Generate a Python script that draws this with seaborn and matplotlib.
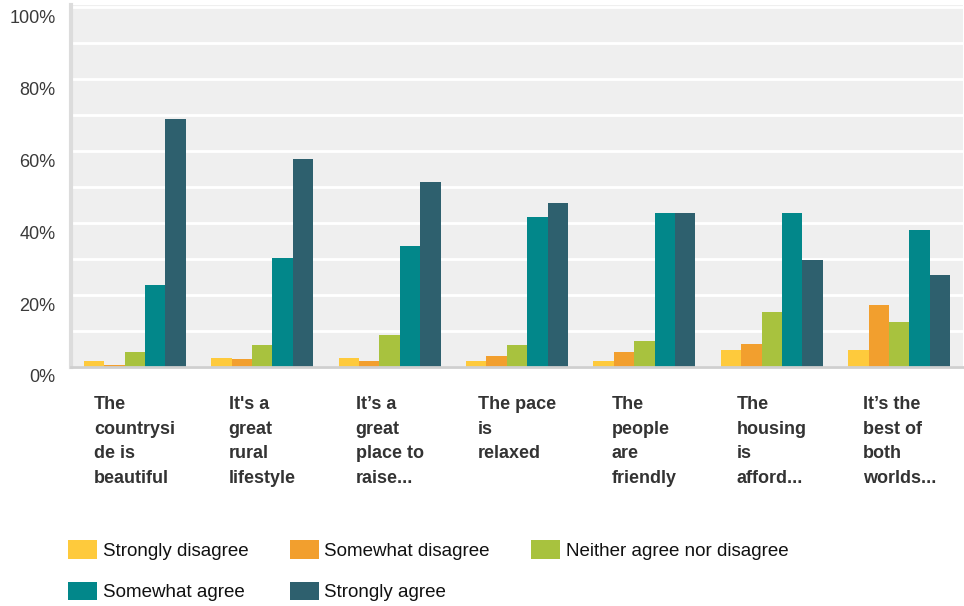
import pandas as pd
import matplotlib.pyplot as plt
import matplotlib.transforms as mtransforms
import seaborn as sns

# ---------- data (percent of respondents) ----------
statements = [
    "The\ncountrysi\nde is\nbeautiful",
    "It's a\ngreat\nrural\nlifestyle",
    "It\u2019s a\ngreat\nplace to\nraise...",
    "The pace\nis\nrelaxed",
    "The\npeople\nare\nfriendly",
    "The\nhousing\nis\nafford...",
    "It\u2019s the\nbest of\nboth\nworlds...",
]
responses = ["Strongly disagree", "Somewhat disagree", "Neither agree nor disagree",
             "Somewhat agree", "Strongly agree"]

strongly_disagree = [1.6, 2.4, 2.4, 1.6, 1.6, 4.6, 4.6]
somewhat_disagree = [0.5, 2.1, 1.6, 3.0, 4.1, 6.5, 17.1]
neither = [4.2, 6.0, 9.0, 6.1, 7.1, 15.2, 12.4]
somewhat_agree = [22.7, 30.2, 33.5, 41.6, 42.7, 42.7, 38.2]
strongly_agree = [68.8, 57.7, 51.3, 45.7, 42.7, 29.6, 25.5]

colors = ["#FECA3C", "#F29F2E", "#A8C23E", "#02878A", "#2E606E"]

series = [strongly_disagree, somewhat_disagree, neither, somewhat_agree, strongly_agree]
rows = []
for resp, vals in zip(responses, series):
    for st, v in zip(statements, vals):
        rows.append({"statement": st, "response": resp, "value": v})
df = pd.DataFrame(rows)

# ---------- plot ----------
sns.set_theme(style="white")
plt.rcParams["font.family"] = ["Liberation Sans", "DejaVu Sans"]

fig = plt.figure(figsize=(9.64, 6.06), dpi=100)
ax = fig.add_axes([71 / 964, 1 - 367 / 606, 892 / 964, 362 / 606])
ax.set_facecolor("#EFEFEF")

sns.barplot(data=df, x="statement", y="value", hue="response", order=statements,
            hue_order=responses, palette=colors, saturation=1, width=0.8,
            linewidth=0, ax=ax)

ax.set_ylim(0, 100.6)
ax.set_xlim(-0.5, 6.5)
ax.set_yticks(range(0, 101, 20))
ax.set_yticks(range(10, 100, 10), minor=True)
ax.set_yticklabels([f"{v}%" for v in range(0, 101, 20)], fontsize=13, color="#3A3A3A")
ax.grid(axis="y", which="both", color="white", linewidth=2)
ax.set_axisbelow(True)
ax.tick_params(axis="both", which="both", length=0)
ax.tick_params(axis="y", pad=11)
ax.tick_params(axis="x", pad=21)

# y labels sit a bit below their gridlines
offset = mtransforms.ScaledTranslation(0, -9 / 100, fig.dpi_scale_trans)
for lbl in ax.get_yticklabels():
    lbl.set_transform(lbl.get_transform() + offset)

ax.set_xticks(range(len(statements)))
ax.set_xticklabels(statements, fontsize=13, fontweight="bold", color="#333333",
                   linespacing=1.58, multialignment="left", va="top")
ax.set_xlabel("")
ax.set_ylabel("")

for side in ["top", "right"]:
    ax.spines[side].set_visible(False)
ax.spines["left"].set_color("#DCDCDC")
ax.spines["left"].set_linewidth(3)
ax.spines["bottom"].set_color("#CFCFCF")
ax.spines["bottom"].set_linewidth(2)

# legend, row-major order across 3 columns
handles, labels = ax.get_legend_handles_labels()
ax.get_legend().remove()
order = [0, 3, 1, 4, 2]
fig.legend([handles[i] for i in order], [labels[i] for i in order],
           loc="upper left", bbox_to_anchor=(68 / 964, 1 - 540 / 606), ncol=3,
           frameon=False, fontsize=13.5, borderpad=0, borderaxespad=0,
           handlelength=1.55, handleheight=1.15, handletextpad=0.3,
           columnspacing=2.2, labelspacing=1.17, labelcolor="#111111")

fig.savefig("out.png", dpi=100)
